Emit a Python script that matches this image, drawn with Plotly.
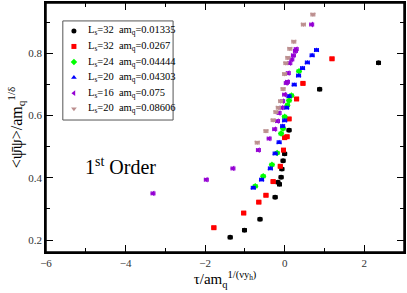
import plotly.graph_objects as go

# ---- data ----
labels = [
    "L<sub>s</sub>=32  am<sub>q</sub>=0.01335",
    "L<sub>s</sub>=32  am<sub>q</sub>=0.0267",
    "L<sub>s</sub>=24  am<sub>q</sub>=0.04444",
    "L<sub>s</sub>=20  am<sub>q</sub>=0.04303",
    "L<sub>s</sub>=16  am<sub>q</sub>=0.075",
    "L<sub>s</sub>=20  am<sub>q</sub>=0.08606",
]

x_black = [-1.37, -1.01, -0.62, -0.24, -0.13, -0.17, -0.09, -0.07, -0.04, 0.00, 0.11, 0.88, 2.36]
y_black = [0.209, 0.232, 0.267, 0.338, 0.379, 0.386, 0.402, 0.428, 0.455, 0.477, 0.553, 0.684, 0.769]

x_red = [-1.78, -1.03, -0.65, -0.47, -0.29, -0.11, -0.03, 0.00, 0.06, 0.11, 0.30, 0.46, 1.19]
y_red = [0.240, 0.287, 0.322, 0.344, 0.388, 0.437, 0.489, 0.529, 0.532, 0.589, 0.653, 0.703, 0.782]

x_green = [-0.74, -0.54, -0.32, -0.19, -0.09, -0.04, 0.00, 0.07, 0.11, 0.17, 0.36]
y_green = [0.373, 0.405, 0.442, 0.480, 0.542, 0.558, 0.596, 0.633, 0.648, 0.664, 0.742]

x_blue = [-0.79, -0.58, -0.36, -0.24, -0.14, -0.05, 0.00, 0.05, 0.11, 0.24, 0.35, 0.45, 0.57, 0.69, 0.80]
y_blue = [0.368, 0.394, 0.430, 0.478, 0.514, 0.566, 0.584, 0.625, 0.662, 0.699, 0.728, 0.752, 0.770, 0.793, 0.810]

x_purple = [-3.31, -1.97, -1.30, -0.66, -0.39, -0.25, -0.18, -0.14, -0.07, -0.05, 0.00, 0.04, 0.07, 0.09, 0.13, 0.18, 0.22, 0.27, 0.29, 0.68]
y_purple = [0.350, 0.394, 0.430, 0.489, 0.526, 0.556, 0.582, 0.608, 0.625, 0.646, 0.667, 0.704, 0.708, 0.736, 0.768, 0.780, 0.793, 0.807, 0.813, 0.892]

x_brown = [-0.69, -0.47, -0.29, -0.22, -0.16, -0.10, -0.04, 0.00, 0.03, 0.08, 0.13, 0.23, 0.47, 0.71]
y_brown = [0.513, 0.550, 0.585, 0.611, 0.625, 0.646, 0.685, 0.733, 0.768, 0.785, 0.814, 0.837, 0.892, 0.924]

colors = ["black", "red", "#00ff00", "blue", "#9400d3", "#bc8f8f"]
symbols = ["circle", "square", "diamond", "triangle-up", "triangle-left", "triangle-down"]
xs_all = [x_black, x_red, x_green, x_blue, x_purple, x_brown]
ys_all = [y_black, y_red, y_green, y_blue, y_purple, y_brown]

serif = "Liberation Serif"

fig = go.Figure()
for xs, ys, col, sym, name in zip(xs_all, ys_all, colors, symbols, labels):
    fig.add_trace(go.Scatter(
        x=xs, y=ys, mode="markers", name=name, showlegend=False,
        marker=dict(color=col, symbol=sym, size=5, line=dict(width=0)),
        error_x=dict(type="constant", value=0.05, color=col, thickness=1, width=2),
        error_y=dict(type="constant", value=0.004, color=col, thickness=1, width=2),
    ))

# ---- hand-built legend (box, symbols on an overlay axis, text annotations) ----
L_left, L_right, L_top, L_bot = 0.047, 0.355, 0.928, 0.530
row_y = [L_top - 0.04 - i * 0.0625 for i in range(6)]
fig.add_trace(go.Scatter(
    x=[0.078] * 6, y=row_y, mode="markers", xaxis="x2", yaxis="y2",
    showlegend=False, hoverinfo="skip",
    marker=dict(color=colors, symbol=symbols, size=5, line=dict(width=0)),
))
fig.add_shape(type="rect", xref="paper", yref="paper",
              x0=L_left, x1=L_right, y0=L_bot, y1=L_top,
              line=dict(color="#555555", width=1), fillcolor="rgba(0,0,0,0)")
for yy, name in zip(row_y, labels):
    fig.add_annotation(text=name, xref="paper", yref="paper", x=0.112, y=yy,
                       xanchor="left", yanchor="middle", showarrow=False,
                       font=dict(family=serif, size=10.5, color="black"))

# ---- frame ----
fig.add_shape(type="rect", xref="paper", yref="paper", x0=0, x1=1, y0=0, y1=1,
              line=dict(color="black", width=1.5), fillcolor="rgba(0,0,0,0)")

axis_common = dict(
    showline=True, linecolor="black", linewidth=1.5, mirror="allticks",
    ticks="inside", ticklen=7, tickwidth=1, tickcolor="black",
    showgrid=False, zeroline=False,
    tickfont=dict(family=serif, size=11, color="#333333"),
)

fig.update_layout(
    xaxis=dict(
        range=[-6, 3], dtick=2, tick0=-6,
        minor=dict(ticks="inside", ticklen=4, dtick=1, tickcolor="black", tickwidth=1),
        title=dict(text="τ/am<sub>q</sub><sup>1/(νy<sub>h</sub>)</sup>",
                   font=dict(family=serif, size=15, color="black"), standoff=6),
        **axis_common,
    ),
    yaxis=dict(
        range=[0.162, 0.961], dtick=0.2, tick0=0.2, tickformat=".1f",
        minor=dict(ticks="inside", ticklen=4, dtick=0.1, tickcolor="black", tickwidth=1),
        title=dict(text="&lt;ψ̄ψ&gt;/am<sub>q</sub><sup>1/δ</sup>",
                   font=dict(family=serif, size=16, color="black"), standoff=2),
        **axis_common,
    ),
    xaxis2=dict(overlaying="x", range=[0, 1], visible=False, fixedrange=True),
    yaxis2=dict(overlaying="y", range=[0, 1], visible=False, fixedrange=True),
)

fig.add_annotation(
    text="1<sup>st</sup> Order", xref="paper", yref="paper",
    x=0.103, y=0.345, xanchor="left", yanchor="middle", showarrow=False,
    font=dict(family=serif, size=20, color="black"),
)

fig.update_layout(
    width=407, height=293,
    margin=dict(l=46, r=1, t=1, b=41),
    paper_bgcolor="white", plot_bgcolor="white",
    showlegend=False,
)

fig.write_html("out.html", config={"displayModeBar": False},
               post_script="document.body.style.margin='0';")
